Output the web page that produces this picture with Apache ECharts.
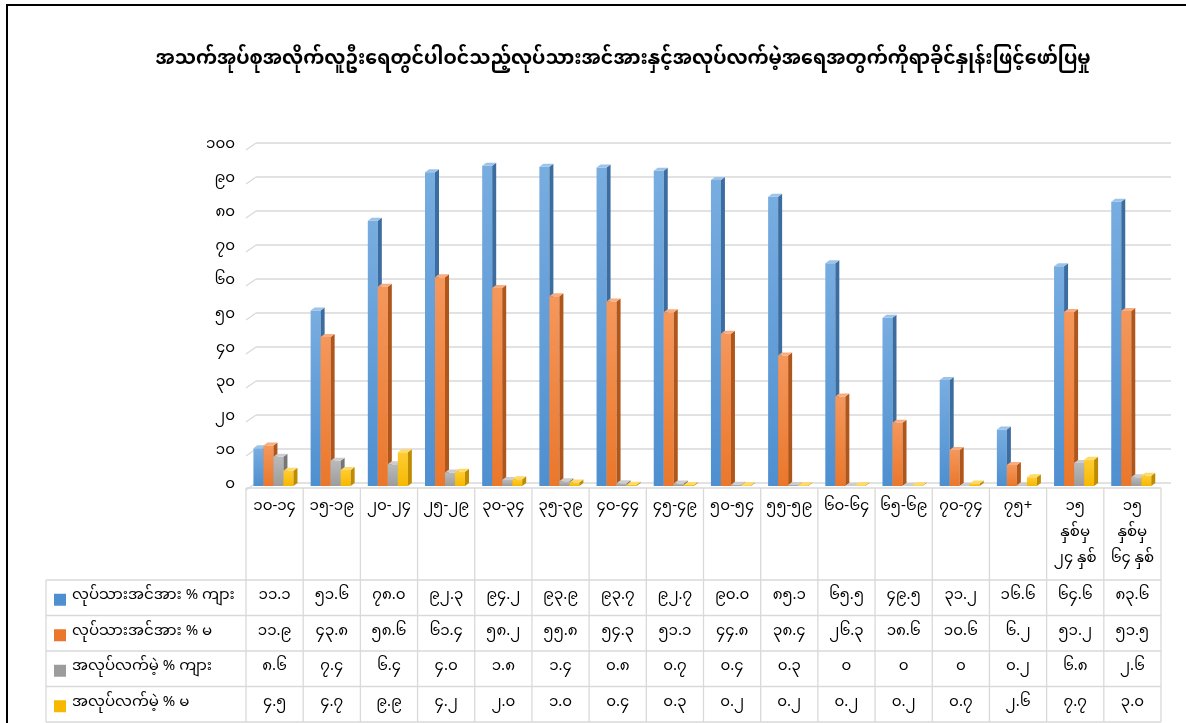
<!DOCTYPE html>
<html>
<head>
<meta charset="utf-8">
<script src="https://cdn.jsdelivr.net/npm/echarts@6/dist/echarts.min.js"></script>
<style>
  html, body { margin: 0; padding: 0; background: #fff; }
  #chart { width: 1186px; height: 723px; }
</style>
</head>
<body>
<div id="chart"></div>
<script>
// Labour force participation and unemployment by age group (percent)
const FONT = '"Noto Sans Myanmar", "Padauk", "Myanmar Text", "Noto Sans", sans-serif';

const chartTitle = 'အသက်အုပ်စုအလိုက်လူဦးရေတွင်ပါဝင်သည့်လုပ်သားအင်အားနှင့်အလုပ်လက်မဲ့အရေအတွက်ကိုရာခိုင်နှုန်းဖြင့်ဖော်ပြမှု';

const categories = [
  '၁၀-၁၄', '၁၅-၁၉', '၂၀-၂၄', '၂၅-၂၉', '၃၀-၃၄', '၃၅-၃၉', '၄၀-၄၄', '၄၅-၄၉',
  '၅၀-၅၄', '၅၅-၅၉', '၆၀-၆၄', '၆၅-၆၉', '၇၀-၇၄', '၇၅+',
  '၁၅\nနှစ်မှ\n၂၄ နှစ်', '၁၅\nနှစ်မှ\n၆၄ နှစ်'
];

const seriesNames = [
  'လုပ်သားအင်အား % ကျား',
  'လုပ်သားအင်အား % မ',
  'အလုပ်လက်မဲ့ % ကျား',
  'အလုပ်လက်မဲ့ % မ'
];

const laborMale   = [11.1, 51.6, 78.0, 92.3, 94.2, 93.9, 93.7, 92.7, 90.0, 85.1, 65.5, 49.5, 31.2, 16.6, 64.6, 83.6];
const laborFemale = [11.9, 43.8, 58.6, 61.4, 58.2, 55.8, 54.3, 51.1, 44.8, 38.4, 26.3, 18.6, 10.6, 6.2, 51.2, 51.5];
const unempMale   = [8.6, 7.4, 6.4, 4.0, 1.8, 1.4, 0.8, 0.7, 0.4, 0.3, 0, 0, 0, 0.2, 6.8, 2.6];
const unempFemale = [4.5, 4.7, 9.9, 4.2, 2.0, 1.0, 0.4, 0.3, 0.2, 0.2, 0.2, 0.2, 0.7, 2.6, 7.7, 3.0];

const yMin = 0, yMax = 100, yStep = 10;

// Office-style palettes: front gradient (top, bottom), side face, top face
const palettes = [
  { hi: '#78ade0', lo: '#4e8fd0', side: '#3c6da0', top: '#9cc3ea' },
  { hi: '#f5975c', lo: '#ea772b', side: '#b0561b', top: '#f7ad80' },
  { hi: '#bababa', lo: '#9c9c9c', side: '#767676', top: '#cdcdcd' },
  { hi: '#ffcd33', lo: '#f6b800', side: '#bf8c00', top: '#ffda66' }
];

const MY_DIGITS = '၀၁၂၃၄၅၆၇၈၉';
const toMy = s => String(s).replace(/\d/g, d => MY_DIGITS[d]);
const fmtVal = v => toMy(v === 0 ? '0' : v.toFixed(1));

const allSeries = [laborMale, laborFemale, unempMale, unempFemale];

const GRID = { left: 246, right: 25, top: 146, bottom: 237 };
const ROW_TOP = 580, ROW_H = 35.5;   // data table rows under the header

function barRenderer(k) {
  const pal = palettes[k];
  return function (params, api) {
    const c = api.value(0), v = api.value(1);
    const p0 = api.coord([c, 0]);
    const p1 = api.coord([c, v]);
    const bw = api.size([1, 0])[0];
    const w = bw * 0.175, dx = 4, dy = 3;
    const x = p0[0] - bw * 0.37 + k * w;
    const yb = p0[1], yt = p1[1];
    const children = [];
    if (yb - yt > 0.5) {
      children.push({
        type: 'rect',
        shape: { x: x, y: yt, width: w, height: yb - yt },
        style: {
          fill: new echarts.graphic.LinearGradient(0, 0, 0, 1, [
            { offset: 0, color: pal.hi }, { offset: 1, color: pal.lo }
          ])
        }
      });
      children.push({
        type: 'polygon',
        shape: { points: [[x + w, yt], [x + w + dx, yt - dy], [x + w + dx, yb - dy], [x + w, yb]] },
        style: { fill: pal.side }
      });
    }
    children.push({
      type: 'polygon',
      shape: { points: [[x, yt], [x + dx, yt - dy], [x + w + dx, yt - dy], [x + w, yt]] },
      style: { fill: pal.top }
    });
    return { type: 'group', children: children };
  };
}

const chart = echarts.init(document.getElementById('chart'), null, { renderer: 'canvas' });

// value rows of the data table are drawn as extra category axes under the plot
const tableAxes = allSeries.map((arr, k) => ({
  type: 'category',
  gridIndex: 0,
  position: 'bottom',
  offset: ROW_TOP + ROW_H * (k + 0.5) - (723 - GRID.bottom),
  data: arr.map(fmtVal),
  axisLine: { show: false },
  axisTick: { show: false },
  splitLine: { show: false },
  axisLabel: {
    interval: 0, margin: 0, verticalAlign: 'middle',
    fontFamily: FONT, fontSize: 15, color: '#000'
  }
}));

chart.setOption({
  animation: false,
  backgroundColor: '#fff',
  title: {
    text: chartTitle,
    left: 618, top: 47, textAlign: 'center',
    textStyle: { fontFamily: FONT, fontSize: 19, fontWeight: 'bold', color: '#000' }
  },
  grid: GRID,
  xAxis: [{
    type: 'category',
    data: categories,
    axisLine: { show: false },
    axisTick: { show: false },
    splitLine: { show: false },
    axisLabel: {
      interval: 0, margin: 9, verticalAlign: 'top', lineHeight: 26,
      fontFamily: FONT, fontSize: 15, color: '#000', align: 'center'
    }
  }].concat(tableAxes),
  yAxis: {
    type: 'value',
    min: yMin, max: yMax, interval: yStep,
    axisLine: { show: false },
    axisTick: { show: false },
    splitLine: { show: false },
    axisLabel: {
      margin: 11, fontFamily: FONT, fontSize: 15, color: '#000',
      padding: [4, 0, 0, 0],
      formatter: v => toMy(v)
    }
  },
  series: allSeries.map((arr, k) => ({
    name: seriesNames[k],
    type: 'custom',
    xAxisIndex: 0,
    yAxisIndex: 0,
    renderItem: barRenderer(k),
    encode: { x: 0, y: 1 },
    data: arr.map((v, i) => [i, v]),
    z: 10
  }))
});

// back wall gridlines, data table lines and legend keys, placed from the axes
function drawDecor() {
  const g = [];
  const lineStyle = { stroke: '#d9d9d9', lineWidth: 1.3 };
  const left = chart.convertToPixel({ xAxisIndex: 0 }, 0);
  const bw = chart.convertToPixel({ xAxisIndex: 0 }, 1) - left;
  const x0 = left - bw / 2;
  const x1 = x0 + bw * categories.length;
  const wallDx = 10, wallUp = 3, wallDown = 4;

  for (let v = yMin; v <= yMax; v += yStep) {
    const y = chart.convertToPixel({ yAxisIndex: 0 }, v);
    g.push({ type: 'line', z: 1, shape: { x1: x0, y1: y + wallDown, x2: x0 + wallDx, y2: y - wallUp }, style: lineStyle });
    g.push({ type: 'line', z: 1, shape: { x1: x0 + wallDx, y1: y - wallUp, x2: x1 + wallDx, y2: y - wallUp }, style: lineStyle });
  }

  const yBase = chart.convertToPixel({ yAxisIndex: 0 }, 0);
  const tTop = yBase + 2;
  const tBottom = ROW_TOP + ROW_H * 4;
  const legendLeft = 46;

  g.push({ type: 'line', z: 20, shape: { x1: x0, y1: tTop, x2: x1, y2: tTop }, style: lineStyle });
  for (let i = 0; i <= categories.length; i++) {
    const x = x0 + bw * i;
    g.push({ type: 'line', z: 20, shape: { x1: x, y1: tTop, x2: x, y2: tBottom }, style: lineStyle });
  }
  for (let r = 0; r <= 4; r++) {
    const y = ROW_TOP + ROW_H * r;
    g.push({ type: 'line', z: 20, shape: { x1: legendLeft, y1: y, x2: x1, y2: y }, style: lineStyle });
  }
  g.push({ type: 'line', z: 20, shape: { x1: legendLeft, y1: ROW_TOP, x2: legendLeft, y2: tBottom }, style: lineStyle });

  seriesNames.forEach((name, k) => {
    const cy = ROW_TOP + ROW_H * (k + 0.5);
    g.push({ type: 'rect', z: 21, shape: { x: 54, y: cy - 4, width: 12, height: 12 }, style: { fill: palettes[k].lo } });
    g.push({
      type: 'text', z: 21, x: 72, y: cy,
      style: { text: name, fontFamily: FONT, fontSize: 15, fill: '#000', verticalAlign: 'middle', align: 'left' }
    });
  });

  // outer chart frame
  g.push({ type: 'rect', z: 30, shape: { x: 7, y: 5, width: 1300, height: 800 }, style: { fill: null, stroke: '#000', lineWidth: 2 } });

  chart.setOption({ graphic: { elements: g } });
}
drawDecor();
</script>
</body>
</html>
